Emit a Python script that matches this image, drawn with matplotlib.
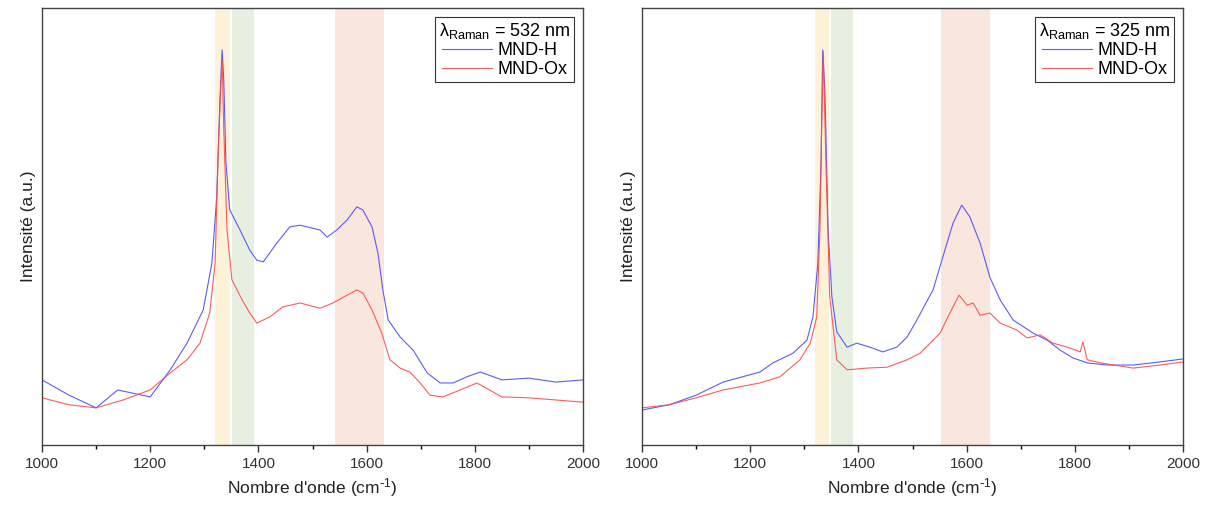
import matplotlib
matplotlib.use('Agg')
import matplotlib.pyplot as plt
import numpy as np

plt.rcParams['font.family'] = ['Liberation Sans', 'DejaVu Sans']
plt.rcParams['mathtext.default'] = 'regular'

# --- data (normalised intensity) ---
x_532_h = [1000, 1050, 1100, 1140, 1200, 1237, 1268, 1298, 1314, 1323, 1329, 1333, 1336, 1340,
           1347, 1366, 1384, 1397, 1409, 1434, 1458, 1477, 1514, 1527, 1545, 1564, 1582, 1593,
           1610, 1621, 1630, 1640, 1662, 1686, 1712, 1736, 1760, 1785, 1810, 1850, 1900, 1950,
           2000]
y_532_h = [0.149, 0.114, 0.085, 0.126, 0.110, 0.172, 0.233, 0.309, 0.416, 0.567, 0.796, 0.904,
           0.835, 0.645, 0.538, 0.492, 0.446, 0.423, 0.419, 0.462, 0.499, 0.503, 0.492, 0.476,
           0.492, 0.515, 0.545, 0.538, 0.499, 0.439, 0.355, 0.286, 0.247, 0.217, 0.165, 0.142,
           0.142, 0.156, 0.167, 0.149, 0.153, 0.144, 0.149]

x_532_ox = [1000, 1050, 1100, 1150, 1200, 1237, 1268, 1292, 1310, 1320, 1325, 1331, 1333, 1336,
            1342, 1351, 1370, 1384, 1397, 1421, 1445, 1477, 1514, 1538, 1564, 1582, 1593, 1610,
            1628, 1643, 1662, 1680, 1699, 1717, 1741, 1773, 1804, 1850, 1900, 1950, 2000]
y_532_ox = [0.108, 0.092, 0.085, 0.103, 0.126, 0.165, 0.195, 0.233, 0.302, 0.416, 0.645, 0.835,
            0.881, 0.721, 0.492, 0.378, 0.332, 0.302, 0.279, 0.293, 0.316, 0.325, 0.313, 0.325,
            0.343, 0.355, 0.348, 0.309, 0.256, 0.195, 0.176, 0.167, 0.142, 0.114, 0.110, 0.126,
            0.142, 0.110, 0.108, 0.103, 0.098]

x_325_h = [1000, 1050, 1100, 1150, 1218, 1242, 1279, 1305, 1316, 1325, 1331, 1334, 1338, 1344,
           1351, 1360, 1379, 1397, 1421, 1445, 1471, 1490, 1508, 1538, 1556, 1575, 1591, 1606,
           1625, 1643, 1662, 1686, 1723, 1749, 1773, 1797, 1823, 1860, 1908, 1957, 2000]
y_325_h = [0.080, 0.092, 0.114, 0.144, 0.167, 0.188, 0.210, 0.240, 0.293, 0.416, 0.645, 0.904,
           0.812, 0.492, 0.339, 0.259, 0.224, 0.233, 0.224, 0.213, 0.224, 0.247, 0.286, 0.355,
           0.430, 0.508, 0.549, 0.522, 0.462, 0.384, 0.332, 0.286, 0.256, 0.240, 0.217, 0.199,
           0.188, 0.183, 0.183, 0.190, 0.197]

x_325_ox = [1000, 1050, 1100, 1150, 1218, 1255, 1292, 1311, 1323, 1329, 1332, 1335, 1340, 1347,
            1360, 1379, 1416, 1453, 1490, 1514, 1551, 1569, 1586, 1601, 1612, 1625, 1643, 1662,
            1693, 1712, 1736, 1760, 1786, 1810, 1815, 1823, 1847, 1908, 1957, 2000]
y_325_ox = [0.085, 0.092, 0.108, 0.126, 0.142, 0.156, 0.195, 0.233, 0.293, 0.492, 0.721, 0.900,
            0.645, 0.339, 0.195, 0.172, 0.176, 0.178, 0.195, 0.210, 0.256, 0.302, 0.343, 0.320,
            0.325, 0.297, 0.302, 0.279, 0.263, 0.245, 0.252, 0.233, 0.224, 0.213, 0.236, 0.195,
            0.188, 0.176, 0.183, 0.190]

bands_532 = [(1320, 1347, '#fdf1d8'), (1352, 1391, '#e7f0e0'), (1542, 1633, '#f9e6dc')]
bands_325 = [(1320, 1346, '#fdf1d8'), (1349, 1390, '#e7f0e0'), (1553, 1643, '#f9e6dc')]

panels = [
    (x_532_h, y_532_h, x_532_ox, y_532_ox, bands_532, '532'),
    (x_325_h, y_325_h, x_325_ox, y_325_ox, bands_325, '325'),
]

fig = plt.figure(figsize=(12.07, 5.09), dpi=100)
lefts = [42 / 1207, 642 / 1207]

for left, (xh, yh, xo, yo, bands, lam) in zip(lefts, panels):
    ax = fig.add_axes([left, 64 / 509, 541 / 1207, 437 / 509])
    for a, b, c in bands:
        ax.axvspan(a, b, color=c, lw=0, zorder=0)
    ax.plot(xh, yh, color='#4a4aff', lw=0.8, alpha=0.9, label='MND-H')
    ax.plot(xo, yo, color='#ff4a4a', lw=0.8, alpha=0.9, label='MND-Ox')
    ax.set_xlim(1000, 2000)
    ax.set_ylim(0, 1)
    ax.set_xticks(np.arange(1000, 2001, 200))
    ax.set_xticks(np.arange(1000, 2001, 100), minor=True)
    ax.set_yticks([])
    ax.tick_params(axis='x', labelsize=11, direction='out', length=5, width=1, colors='#333333')
    ax.tick_params(axis='x', which='minor', direction='out', length=3, width=1)
    for s in ax.spines.values():
        s.set_color('#444444')
        s.set_linewidth(1)
    ax.set_xlabel(r"Nombre d'onde (cm$^{\text{-}1}$)", fontsize=12.5, color='#222222')
    ax.set_ylabel('Intensité (a.u.)', fontsize=12.5, color='#222222')
    leg = ax.legend(title=r'$\lambda_{Raman}$ = ' + lam + ' nm', loc='upper right',
                    fontsize=13, title_fontsize=13, fancybox=False, edgecolor='#333333',
                    framealpha=1, handlelength=2.8, borderpad=0.2, labelspacing=0.1,
                    handletextpad=0.3, borderaxespad=0.5)
    leg.get_frame().set_linewidth(0.8)

fig.savefig('out.png', dpi=100)
